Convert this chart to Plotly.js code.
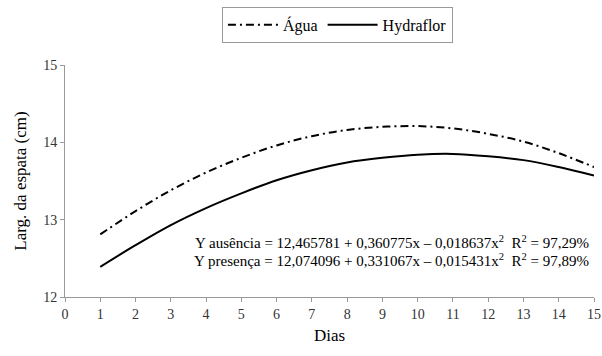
<!DOCTYPE html>
<html><head><meta charset="utf-8">
<script src="https://cdn.plot.ly/plotly-3.0.1.min.js"></script>
<style>body{margin:0;background:#fff}#c{width:602px;height:356px}
#c svg text{font-family:'Liberation Serif','Times New Roman',serif !important;}</style>
</head><body><div id="c"></div>
<script>
const dias = [1,2,3,4,5,6,7,8,9,10,11,12,13,14,15];
const agua = [12.81,13.11,13.38,13.61,13.80,13.96,14.08,14.16,14.20,14.21,14.18,14.11,14.01,13.86,13.68];
const hydraflor = [12.39,12.67,12.93,13.15,13.34,13.51,13.64,13.74,13.80,13.84,13.85,13.82,13.77,13.68,13.57];
const xTicks = [0,1,2,3,4,5,6,7,8,9,10,11,12,13,14,15];
const yTicks = [12,13,14,15];
const eq1 = "Y ausência = 12,465781 + 0,360775x – 0,018637x<sup>2</sup>  R<sup>2</sup> = 97,29%";
const eq2 = "Y presença = 12,074096 + 0,331067x – 0,015431x<sup>2</sup>  R<sup>2</sup> = 97,89%";
const font = "Liberation Serif";
const traces = [
 {x:dias,y:agua,name:"Água",mode:"lines",line:{color:"#000",width:2,dash:"8px,4px,2px,4px",shape:"spline"}},
 {x:dias,y:hydraflor,name:"Hydraflor",mode:"lines",line:{color:"#000",width:2,shape:"spline"}}
];
const layout = {
 width:602,height:356,paper_bgcolor:"#fff",plot_bgcolor:"#fff",
 margin:{l:65,r:8,t:65,b:59,autoexpand:false},
 font:{family:font,size:13,color:"#222"},
 showlegend:true,
 legend:{orientation:"h",x:0.515,xanchor:"center",xref:"paper",yref:"container",y:0.93,yanchor:"middle",bordercolor:"#999",borderwidth:1,
   font:{family:font,size:16,color:"#000"},itemwidth:50,tracegroupgap:0},
 xaxis:{range:[0,15],tickvals:xTicks,showgrid:false,zeroline:false,showline:true,linecolor:"#999",linewidth:1,
   ticks:"outside",ticklen:4,tickcolor:"#999",tickfont:{family:font,size:14,color:"#333"},
   title:{text:"Dias",font:{family:font,size:17,color:"#000"},standoff:8}},
 yaxis:{range:[12,15],tickvals:yTicks,showgrid:false,zeroline:false,showline:true,linecolor:"#999",linewidth:1,
   ticks:"outside",ticklen:4,tickcolor:"#999",tickfont:{family:font,size:14,color:"#333"},
   title:{text:"Larg. da espata (cm)",font:{family:font,size:17,color:"#000"},standoff:12}},
 annotations:[
  {xref:"paper",yref:"paper",x:0.995,y:0.238,xanchor:"right",yanchor:"middle",showarrow:false,text:eq1,font:{family:font,size:15,color:"#000"}},
  {xref:"paper",yref:"paper",x:0.995,y:0.16,xanchor:"right",yanchor:"middle",showarrow:false,text:eq2,font:{family:font,size:15,color:"#000"}}
 ]
};
Plotly.newPlot("c",traces,layout,{displayModeBar:false,staticPlot:true});
</script></body></html>
